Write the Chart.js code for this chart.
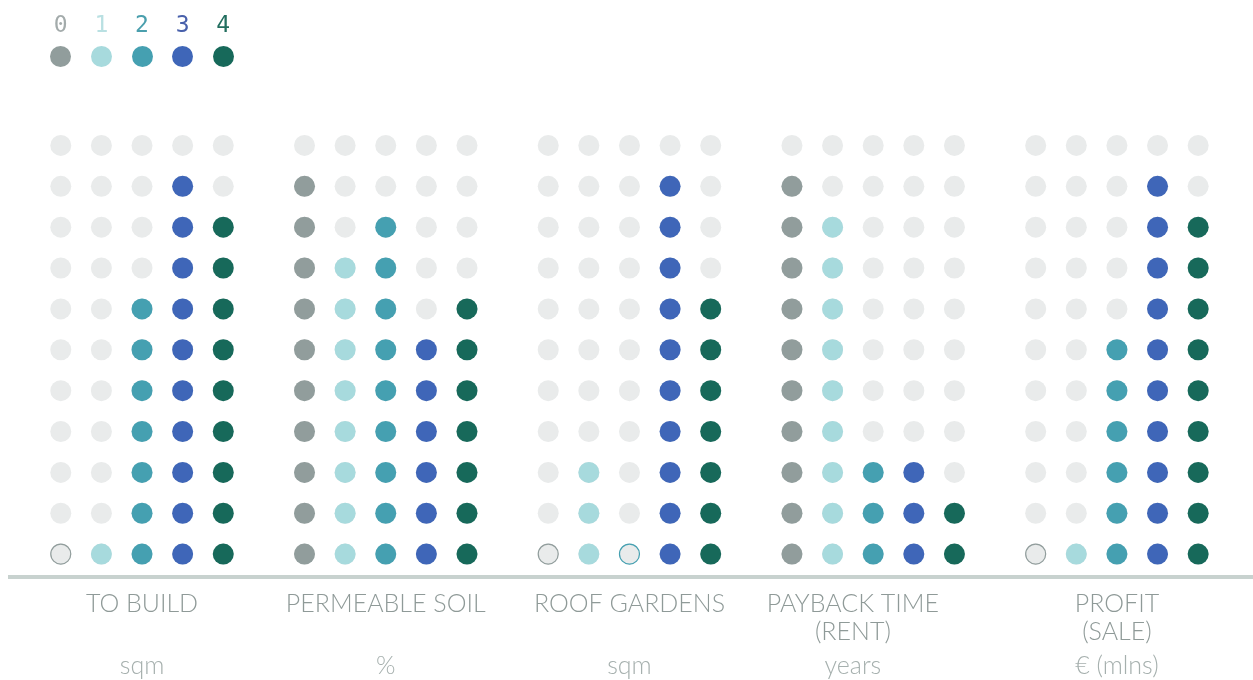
<!DOCTYPE html>
<html>
<head>
<meta charset="utf-8">
<script src="https://cdn.jsdelivr.net/npm/chart.js@4.4.0/dist/chart.umd.min.js"></script>
<style>
  html, body { margin: 0; padding: 0; background: #fff; overflow: hidden; }
  #wrap { position: relative; width: 1253px; height: 680px; }
  #legend { position: absolute; left: 0; top: 0; width: 100%; height: 90px; }
  .key { position: absolute; top: 10px; width: 40px; text-align: center; }
  .key span { display: block; font-family: "DejaVu Sans Mono", monospace; font-weight: 300; font-size: 23px; line-height: 28px; }
  .key i { display: block; width: 21px; height: 21px; border-radius: 50%; margin: 8px auto 0; }
</style>
</head>
<body>
<div id="wrap">
  <canvas id="dots"></canvas>
  <div id="legend"></div>
</div>
<script>
"use strict";

// ---------------- data ----------------
const levels = ["0", "1", "2", "3", "4"];
const groupTitles = [["TO BUILD"], ["PERMEABLE SOIL"], ["ROOF GARDENS"], ["PAYBACK TIME", "(RENT)"], ["PROFIT", "(SALE)"]];
const groupUnits = ["sqm", "%", "sqm", "years", "€ (mlns)"];
// how many dots each level gets in each group (bottom up)
const level0 = [0, 10, 0, 10, 0];
const level1 = [1, 8, 3, 9, 1];
const level2 = [7, 9, 0, 3, 6];
const level3 = [10, 6, 10, 3, 10];
const level4 = [9, 7, 7, 2, 9];
const rowCount = 11;

// ---------------- style ----------------
const levelColors = ["#919d9c", "#a7dadd", "#45a0b1", "#3f66b8", "#17695a"];
const keyTextColors = ["#a3abab", "#b9e0e2", "#4a9fad", "#4860ab", "#226e5f"];
const emptyDot = "#e9ebeb";
const groupStep = 6;   // 5 columns + 1 gap
const labelNudge = [0, 0, 0, -0.5, 0];
const labelFont = "Lato";

// ---------------- build datasets ----------------
let levelValues = [level0, level1, level2, level3, level4];
let datasets = [];

levelValues.forEach((vals, c) => {
  let filled = [];
  let none = [];
  vals.forEach((n, g) => {
    if (n === 0) none.push({ x: g * groupStep + c, y: 0 });
    for (let r = 0; r < n; r++) {
      filled.push({ x: g * groupStep + c, y: r });
    }
  });
  datasets.push({
    label: levels[c],
    data: filled,
    pointBackgroundColor: levelColors[c],
    pointBorderWidth: 0,
    pointRadius: 10.5,
    pointHoverRadius: 10.5,
    order: 0
  });
  if (none.length) {
    // zero value -> hollow ring on the bottom row
    datasets.push({
      label: levels[c] + " (none)",
      data: none,
      pointBackgroundColor: emptyDot,
      pointBorderColor: levelColors[c],
      pointBorderWidth: 1.2,
      pointRadius: 10,
      pointHoverRadius: 10,
      order: 0
    });
  }
});

let bgDots = [];
groupTitles.forEach((t, g) => {
  levels.forEach((l, c) => {
    for (let r = 0; r < rowCount; r++) bgDots.push({ x: g * groupStep + c, y: r });
  });
});
datasets.push({
  label: "empty",
  data: bgDots,
  pointBackgroundColor: emptyDot,
  pointBorderWidth: 0,
  pointRadius: 10.5,
  pointHoverRadius: 10.5,
  order: 1
});

// ---------------- legend (html) ----------------
function placeLegend(chart) {
  let xScale = chart.scales.x;
  let html = "";
  levels.forEach((l, c) => {
    let px = xScale.getPixelForValue(c);
    html += `<div class="key" style="left:${px - 20}px">
      <span style="color:${keyTextColors[c]}">${l}</span>
      <i style="background:${levelColors[c]}"></i>
    </div>`;
  });
  document.querySelector("#legend").innerHTML = html;
}

// unit line under the group titles
const unitLabels = {
  id: "unitLabels",
  afterDraw(chart) {
    let xScale = chart.scales.x;
    let c = chart.ctx;
    c.save();
    c.font = "300 25px " + labelFont;
    c.fillStyle = "#a6b0ae";
    c.textAlign = "center";
    c.textBaseline = "middle";
    groupUnits.forEach((u, g) => {
      c.fillText(u, xScale.getPixelForValue(g * groupStep + 2 + labelNudge[g]), xScale.bottom + 7);
    });
    c.restore();
  }
};

// ---------------- chart ----------------
let ctx = document.getElementById("dots").getContext("2d");
let dotChart = new Chart(ctx, {
  type: "scatter",
  data: { datasets: datasets },
  options: {
    responsive: true,
    maintainAspectRatio: false,
    animation: false,
    events: [],
    layout: {
      autoPadding: false,
      padding: { left: 10, right: 0, top: 125, bottom: 21 }
    },
    plugins: {
      legend: { display: false },
      tooltip: { enabled: false }
    },
    scales: {
      x: {
        type: "linear",
        position: "bottom",
        min: -1.25,
        max: 29.35,
        grid: { display: false, drawTicks: false },
        border: { display: true, color: "#c8d2cf", width: 4 },
        afterBuildTicks: axis => {
          axis.ticks = groupTitles.map((t, g) => ({ value: g * groupStep + 2 + labelNudge[g] }));
        },
        ticks: {
          autoSkip: false,
          maxRotation: 0,
          padding: 13,
          color: "#8f9a98",
          font: { family: labelFont, size: 25, weight: 300, lineHeight: 1.12 },
          callback: (value, index) => groupTitles[index]
        }
      },
      y: {
        display: false,
        min: -0.56,
        max: 10.5
      }
    }
  },
  plugins: [unitLabels, {
    id: "htmlKey",
    afterLayout: chart => placeLegend(chart)
  }]
});
</script>
</body>
</html>
